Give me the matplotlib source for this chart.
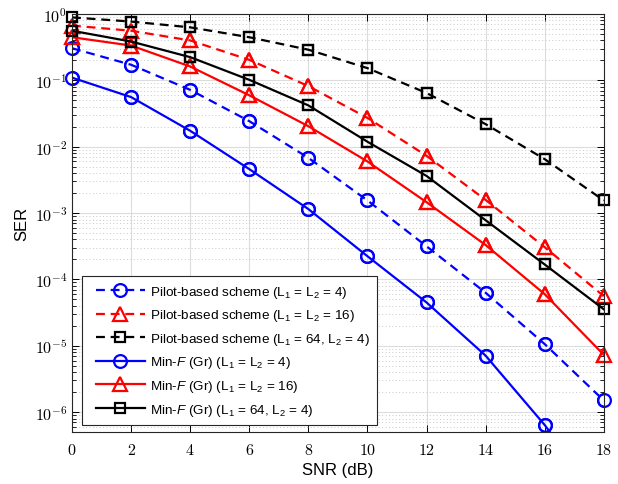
import math
import matplotlib
matplotlib.use('Agg')
import matplotlib.pyplot as plt
from matplotlib.font_manager import FontProperties
from matplotlib.legend_handler import HandlerLine2D
from matplotlib.ticker import FuncFormatter, LogLocator, NullFormatter

# SER vs SNR data
snr = [0, 2, 4, 6, 8, 10, 12, 14, 16, 18]

pilot_4 = [0.305, 0.172, 0.072, 0.0243, 0.0068, 0.00155, 3.16e-4, 6.3e-5, 1.06e-5, 1.5e-6]
pilot_16 = [0.67, 0.56, 0.40, 0.204, 0.082, 0.0272, 0.0073, 0.00158, 3.06e-4, 5.6e-5]
pilot_64 = [0.89, 0.77, 0.63, 0.447, 0.29, 0.153, 0.0646, 0.0219, 0.0065, 0.00155]
minf_4 = [0.11, 0.056, 0.0174, 0.0046, 0.00115, 2.24e-4, 4.5e-5, 7.1e-6, 6.4e-7, 4.0e-8]
minf_16 = [0.447, 0.335, 0.162, 0.0596, 0.0204, 0.006, 0.00146, 3.3e-4, 6.0e-5, 7.3e-6]
minf_64 = [0.56, 0.385, 0.224, 0.102, 0.042, 0.0119, 0.00363, 7.8e-4, 1.68e-4, 3.55e-5]

labels = [
    'Pilot-based scheme (L$_1$ = L$_2$ = 4)',
    'Pilot-based scheme (L$_1$ = L$_2$ = 16)',
    'Pilot-based scheme (L$_1$ = 64, L$_2$ = 4)',
    'Min-$F$ (Gr) (L$_1$ = L$_2$ = 4)',
    'Min-$F$ (Gr) (L$_1$ = L$_2$ = 16)',
    'Min-$F$ (Gr) (L$_1$ = 64, L$_2$ = 4)',
]
yticks = [1e-6, 1e-5, 1e-4, 1e-3, 1e-2, 1e-1, 1e0]

plt.rcParams['mathtext.fontset'] = 'cm'
plt.rcParams['mathtext.rm'] = 'Liberation Sans'
plt.rcParams['mathtext.it'] = 'Liberation Sans:italic'
plt.rcParams['mathtext.bf'] = 'Liberation Sans:bold'
plt.rcParams['font.family'] = ['Liberation Sans', 'DejaVu Sans']

YMIN, YMAX = 5e-7, 1.0

fig = plt.figure(figsize=(6.18, 4.85), dpi=100)
ax = fig.add_axes([0.1165, 0.107, 0.8605, 0.862])

dash = (0, (4, 2.6))
series = [
    (pilot_4, 'blue', dash, 'o'),
    (pilot_16, 'red', dash, '^'),
    (pilot_64, 'black', dash, 's'),
    (minf_4, 'blue', '-', 'o'),
    (minf_16, 'red', '-', '^'),
    (minf_64, 'black', '-', 's'),
]
msize = {'o': 9.2, '^': 10, 's': 7.5}

handles = []
for (vals, col, ls, mk), lab in zip(series, labels):
    h, = ax.plot(snr, vals, color=col, linestyle=ls, linewidth=1.6,
                 marker=mk, markersize=msize[mk], markerfacecolor='none',
                 markeredgewidth=1.6, label=lab)
    handles.append(h)
    # markers at the axes edges are drawn in full, like MATLAB does
    xs = [x for x, v in zip(snr, vals) if YMIN <= v <= YMAX]
    ys = [v for v in vals if YMIN <= v <= YMAX]
    ax.plot(xs, ys, linestyle='none', marker=mk, markersize=msize[mk],
            markerfacecolor='none', markeredgecolor=col,
            markeredgewidth=1.6, clip_on=False)

ax.set_yscale('log')
ax.set_xlim(0, 18)
ax.set_ylim(YMIN, YMAX)
ax.set_xticks(snr)
ax.xaxis.set_major_formatter(FuncFormatter(lambda v, p: r'$%d$' % v))
ax.set_yticks(yticks)
ax.yaxis.set_minor_locator(LogLocator(base=10, subs=range(2, 10), numticks=20))
ax.yaxis.set_minor_formatter(NullFormatter())
ax.yaxis.set_major_formatter(FuncFormatter(lambda v, p: r'$10^{%d}$' % round(math.log10(v))))

ax.tick_params(which='both', direction='in', top=True, right=True, labelsize=11.5)
ax.tick_params(which='major', length=5, width=0.7)
ax.tick_params(which='minor', length=3, width=0.6)
ax.tick_params(axis='x', pad=7)

ax.grid(True, which='major', color='#dcdcdc', linewidth=0.8, linestyle='-')
ax.grid(True, which='minor', axis='y', color='#c8c8c8', linewidth=0.7, linestyle=(0, (1, 2.5)))
ax.set_axisbelow(True)
for s in ax.spines.values():
    s.set_linewidth(0.8)
    s.set_color('#262626')

ax.set_xlabel('SNR (dB)', fontsize=12, labelpad=4)
ax.set_ylabel('SER', fontsize=12, labelpad=4)

leg_font = FontProperties(family='Liberation Sans', size=9.7, math_fontfamily='custom')
leg = ax.legend(handles=handles, loc='lower left', bbox_to_anchor=(0.019, 0.017),
                borderaxespad=0, prop=leg_font, handlelength=4.1, handletextpad=0.38,
                labelspacing=0.56, fancybox=False, framealpha=1, edgecolor='#262626',
                borderpad=0.55,
                handler_map={h: HandlerLine2D(xpad=0.5) for h in handles})
leg.get_frame().set_linewidth(0.8)

fig.savefig('out.png', dpi=100)
